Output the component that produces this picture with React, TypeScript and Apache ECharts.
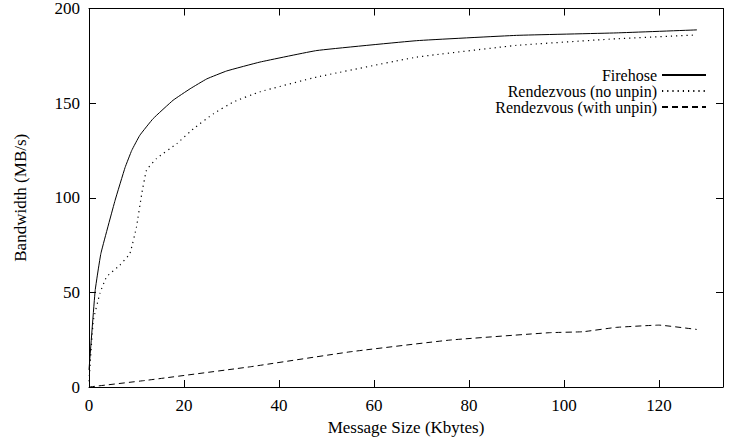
import React, { useEffect, useRef } from "react";
import * as echarts from "echarts";

const fireX = [0, 1.3, 2.5, 5.5, 7.6, 9, 10.7, 13.5, 17.7, 21.3, 24.8, 29, 36, 48, 69, 90, 111, 128];
const fireY = [9, 51, 70.5, 98.7, 116, 125, 133, 141.8, 151.5, 157.6, 162.8, 167, 171.7, 177.8, 183, 185.8, 187.1, 188.7];

const noX = [0, 0.9, 2.3, 3.7, 6.5, 8.6, 10, 11.1, 12.1, 14.2, 18.5, 22, 26.2, 30.4, 36, 48, 69, 90, 111, 128];
const noY = [3, 35, 49.5, 58.2, 64.4, 70.5, 84.6, 102, 114.5, 120.7, 128.6, 136.5, 144.4, 150.6, 156, 163.8, 174.3, 180.5, 184, 186];

const withX = [0, 12, 34, 55, 76, 97, 104, 111, 120, 128];
const withY = [0, 3.5, 10.7, 18.6, 24.8, 28.7, 29.2, 31.5, 32.7, 30.4];

const names = ["Firehose", "Rendezvous (no unpin)", "Rendezvous (with unpin)"];
const xTicks = [0, 20, 40, 60, 80, 100, 120];
const yTicks = [0, 50, 100, 150, 200];

const zip = (xs: number[], ys: number[]) => xs.map((x, i) => [x, ys[i]]);

export default function App() {
  const ref = useRef<HTMLDivElement>(null);
  useEffect(() => {
    if (!ref.current) return;
    const chart = echarts.init(ref.current, undefined, { renderer: "svg" });
    const font = "'Liberation Serif', 'Times New Roman', serif";
    const fs = 17;
    const xMax = 133.5;
    const yMax = 200;
    const line = { show: true, onZero: false, lineStyle: { color: "#000", width: 1 } };
    const tick = { show: true, inside: true, length: 7, lineStyle: { color: "#000", width: 1 } };
    chart.setOption({
      animation: false,
      backgroundColor: "#fff",
      textStyle: { fontFamily: font },
      grid: { left: 89, right: 14, top: 8, bottom: 56 },
      xAxis: [
        {
          type: "value",
          min: 0,
          max: xMax,
          interval: 20,
          splitLine: { show: false },
          axisLine: line,
          axisTick: tick,
          name: "Message Size (Kbytes)",
          nameLocation: "middle",
          nameGap: 28,
          nameTextStyle: { fontFamily: font, fontSize: fs, color: "#000" },
          axisLabel: {
            fontFamily: font,
            fontSize: fs,
            color: "#000",
            margin: 10,
            showMaxLabel: false,
            formatter: (v: number) => (xTicks.includes(v) ? String(v) : ""),
          },
        },
        {
          type: "value",
          position: "top",
          min: 0,
          max: xMax,
          interval: 20,
          splitLine: { show: false },
          axisLine: line,
          axisTick: tick,
          axisLabel: { show: false },
        },
      ],
      yAxis: [
        {
          type: "value",
          min: 0,
          max: yMax,
          interval: 50,
          splitLine: { show: false },
          axisLine: line,
          axisTick: tick,
          name: "Bandwidth (MB/s)",
          nameLocation: "middle",
          nameGap: 60,
          nameTextStyle: { fontFamily: font, fontSize: fs, color: "#000" },
          axisLabel: {
            fontFamily: font,
            fontSize: fs,
            color: "#000",
            margin: 9,
            formatter: (v: number) => (yTicks.includes(v) ? String(v) : ""),
          },
        },
        {
          type: "value",
          position: "right",
          min: 0,
          max: yMax,
          interval: 50,
          splitLine: { show: false },
          axisLine: line,
          axisTick: tick,
          axisLabel: { show: false },
        },
      ],
      legend: names.map((n, i) => ({
        data: [n],
        right: 30,
        top: 67 + i * 16,
        align: "right",
        itemWidth: 44,
        itemHeight: 14,
        padding: 0,
        itemStyle: { color: "transparent", borderColor: "transparent", borderWidth: 0, opacity: 0 },
        textStyle: { fontFamily: font, fontSize: 16, lineHeight: 15, color: "#000" },
        selectedMode: false,
      })),
      series: [
        {
          name: names[0],
          type: "line",
          data: zip(fireX, fireY),
          symbol: "none",
          smooth: 0.1,
          lineStyle: { color: "#000", width: 1, type: "solid" },
          itemStyle: { color: "#000" },
        },
        {
          name: names[1],
          type: "line",
          data: zip(noX, noY),
          symbol: "none",
          smooth: 0.1,
          lineStyle: { color: "#000", width: 1.2, type: [1.2, 4] },
          itemStyle: { color: "#000" },
        },
        {
          name: names[2],
          type: "line",
          data: zip(withX, withY),
          symbol: "none",
          smooth: 0.1,
          lineStyle: { color: "#000", width: 1, type: [6, 4] },
          itemStyle: { color: "#000" },
        },
      ],
    });
    return () => chart.dispose();
  }, []);
  return (
    <div
      ref={ref}
      style={{ position: "fixed", left: 0, top: 0, width: 737, height: 443, background: "#fff" }}
    />
  );
}
